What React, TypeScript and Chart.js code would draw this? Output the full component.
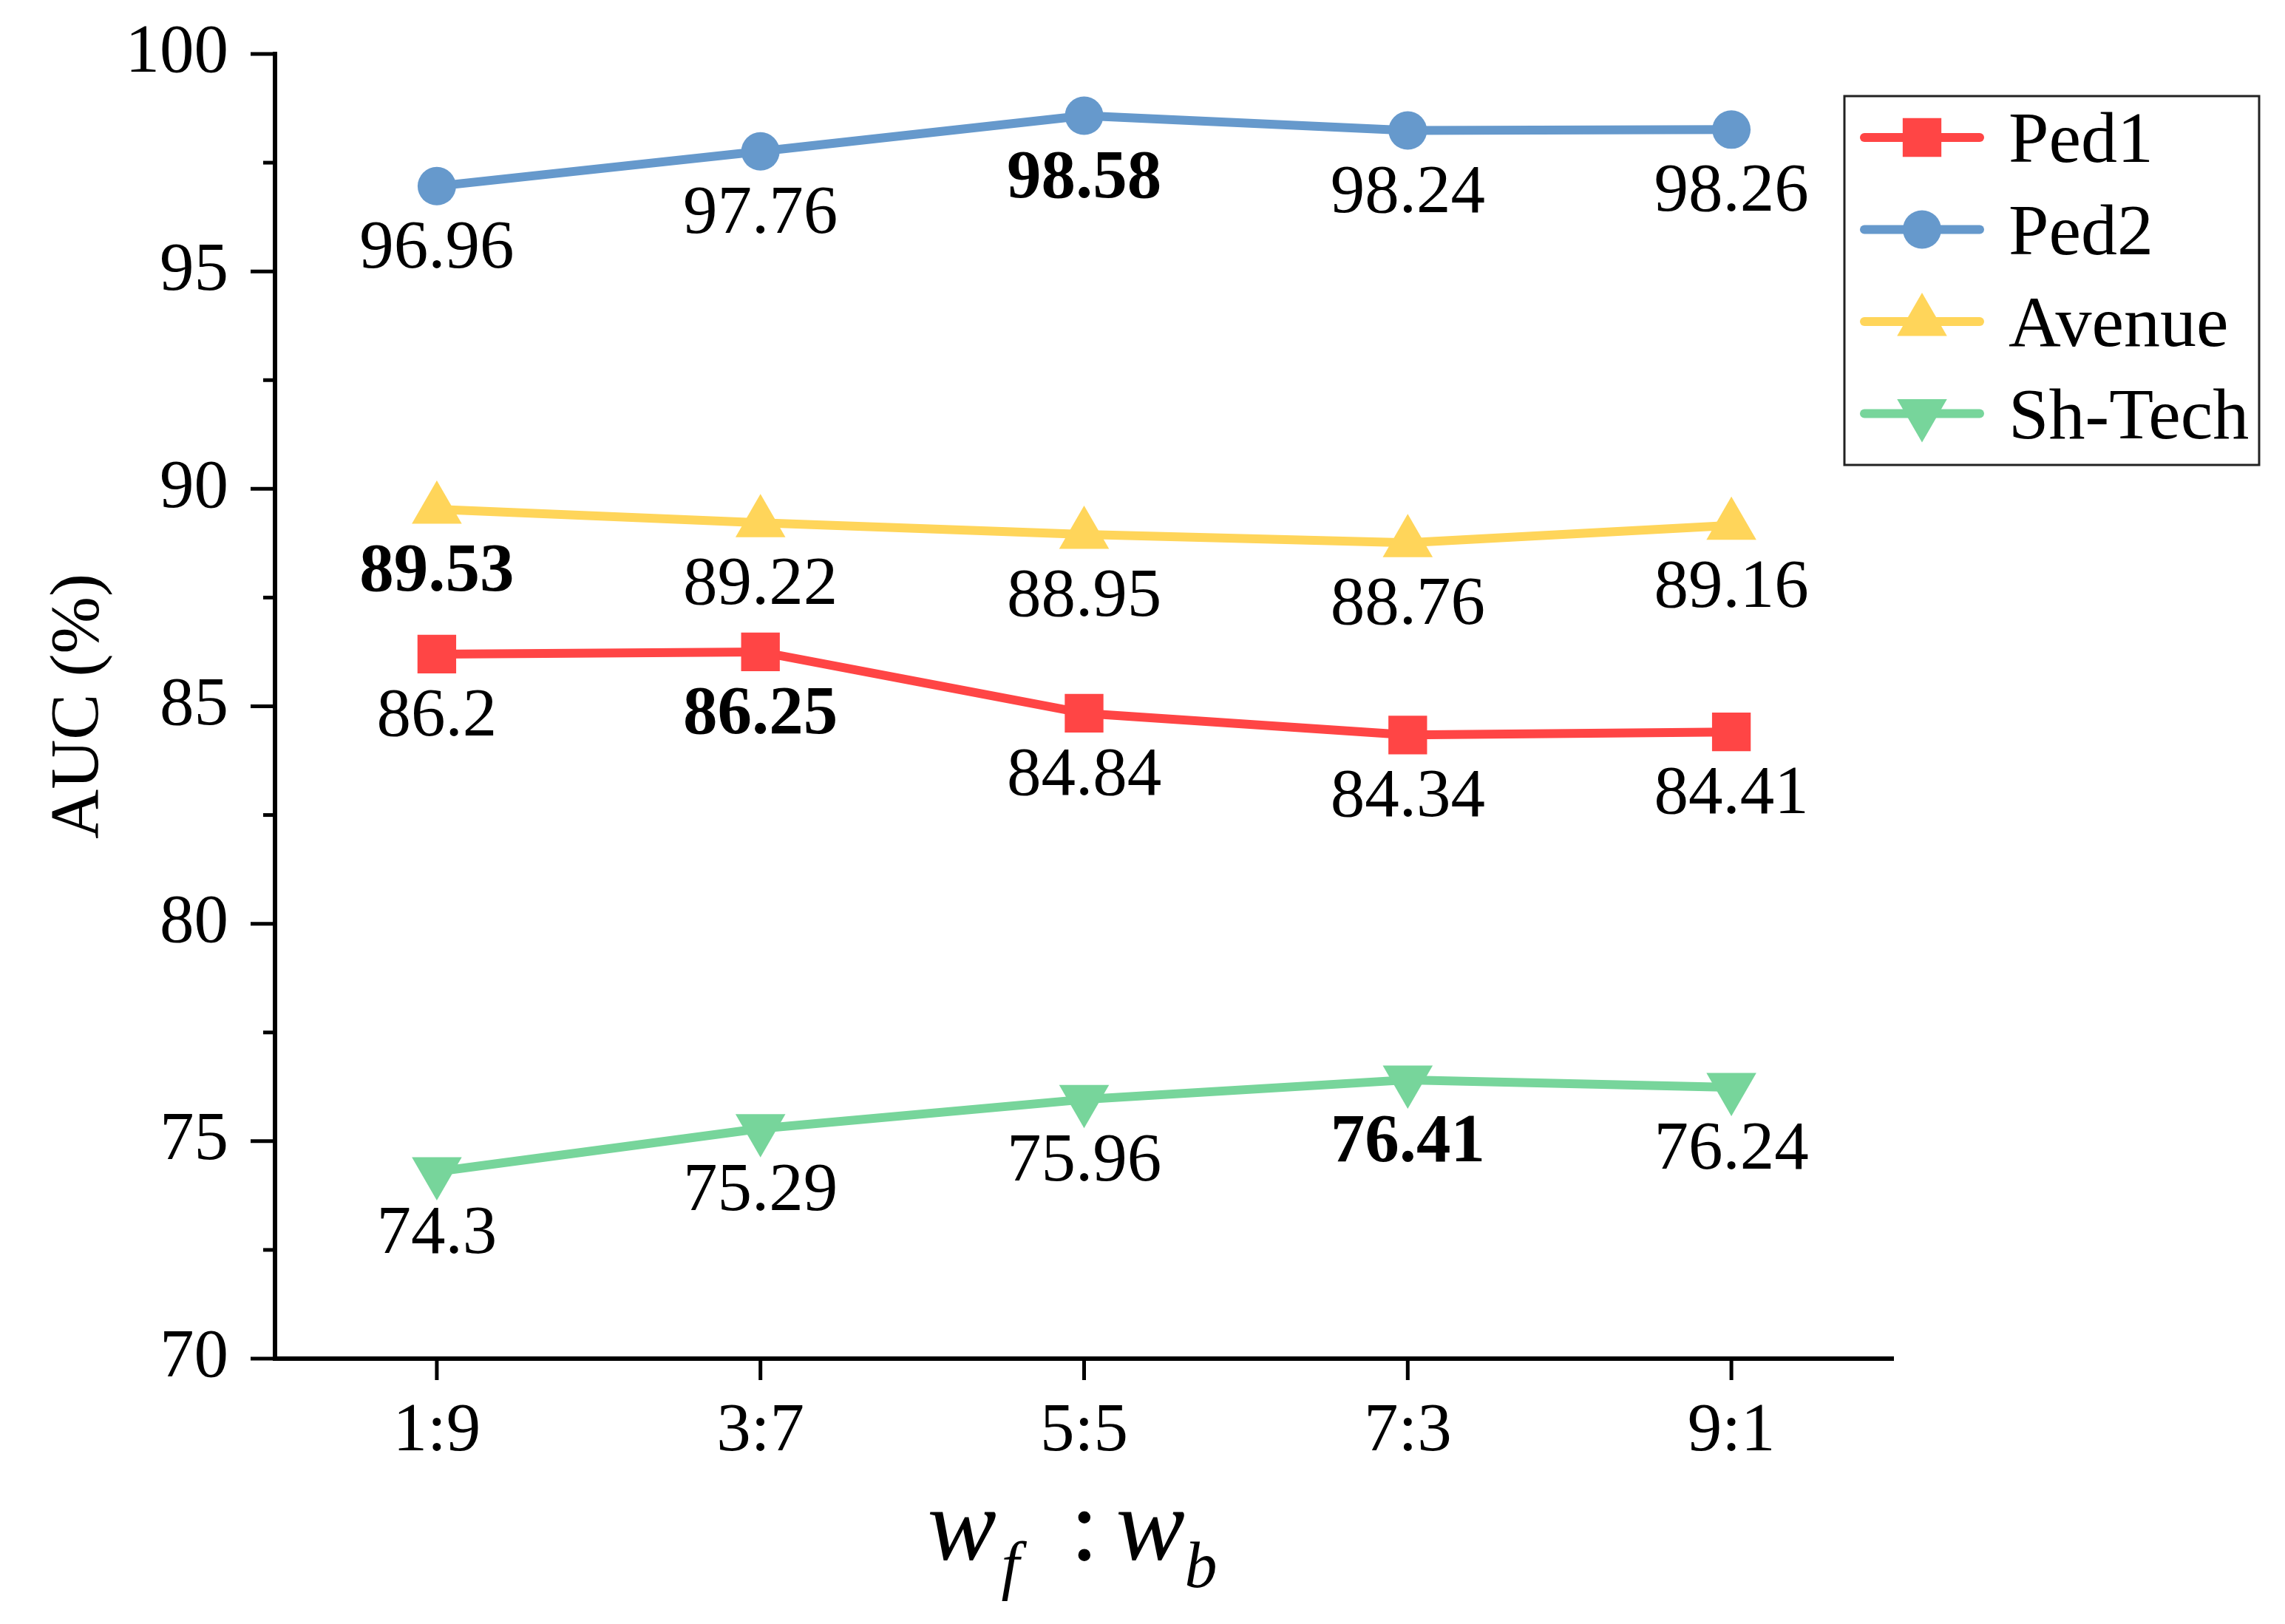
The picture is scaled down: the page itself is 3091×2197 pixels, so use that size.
import { useEffect, useRef } from 'react';
import { Chart, registerables } from 'chart.js';
import { drawPoint } from 'chart.js/helpers';

Chart.register(...registerables);

// weight ratio w_f : w_b
const ratios = ['1:9', '3:7', '5:5', '7:3', '9:1'];

// AUC (%) per dataset
const ped1 = [86.2, 86.25, 84.84, 84.34, 84.41];
const ped2 = [96.96, 97.76, 98.58, 98.24, 98.26];
const avenue = [89.53, 89.22, 88.95, 88.76, 89.16];
const shTech = [74.3, 75.29, 75.96, 76.41, 76.24];

const seriesNames = ['Ped1', 'Ped2', 'Avenue', 'Sh-Tech'];
const seriesColors = ['#FF4545', '#6699CC', '#FFD55A', '#77D59B'];

const yMin = 70;
const yMax = 100;
const yStep = 2.5;

const FONT = '"Liberation Serif", "Times New Roman", serif';

// tick marks: major ones longer than minor ones
const tickMarks = {
    id: 'tickMarks',
    afterDraw(chart: any) {
        const { ctx } = chart;
        const xs = chart.scales.x;
        const ys = chart.scales.y;
        ctx.save();
        ctx.strokeStyle = '#000';
        ctx.lineWidth = 5;
        ys.ticks.forEach((t: any) => {
            const py = ys.getPixelForValue(t.value);
            const len = t.value % 5 === 0 ? 33 : 16;
            ctx.beginPath();
            ctx.moveTo(ys.right, py);
            ctx.lineTo(ys.right - len, py);
            ctx.stroke();
        });
        xs.ticks.forEach((_t: any, i: number) => {
            const px = xs.getPixelForTick(i);
            ctx.beginPath();
            ctx.moveTo(px, xs.top);
            ctx.lineTo(px, xs.top + 29);
            ctx.stroke();
        });
        ctx.restore();
    },
};

// value under every point, best value of each series in bold
const valueLabels = {
    id: 'valueLabels',
    afterDatasetsDraw(chart: any) {
        const { ctx } = chart;
        ctx.save();
        ctx.fillStyle = '#000';
        ctx.textAlign = 'center';
        ctx.textBaseline = 'alphabetic';
        chart.data.datasets.forEach((ds: any, i: number) => {
            const vals = ds.data as number[];
            const best = vals.indexOf(Math.max(...vals));
            chart.getDatasetMeta(i).data.forEach((pt: any, j: number) => {
                ctx.font = `${j === best ? 'bold ' : ''}93px ${FONT}`;
                ctx.fillText(String(vals[j]), pt.x, pt.y + 110);
            });
        });
        ctx.restore();
    },
};

// boxed legend with line + marker samples
const boxLegend = {
    id: 'boxLegend',
    afterDraw(chart: any) {
        const { ctx } = chart;
        const left = 2495, top = 130, w = 561, h = 499;
        ctx.save();
        ctx.strokeStyle = '#222';
        ctx.lineWidth = 3;
        ctx.strokeRect(left, top, w, h);
        chart.data.datasets.forEach((ds: any, i: number) => {
            const cy = 186 + i * 124.5;
            ctx.strokeStyle = ds.borderColor;
            ctx.lineWidth = 12;
            ctx.lineCap = 'round';
            ctx.beginPath();
            ctx.moveTo(2522, cy);
            ctx.lineTo(2678, cy);
            ctx.stroke();
            ctx.fillStyle = ds.borderColor;
            drawPoint(ctx, {
                pointStyle: ds.pointStyle,
                radius: ds.pointRadius,
                rotation: ds.pointRotation || 0,
                borderWidth: 0,
            }, 2600, cy);
            ctx.fillStyle = '#000';
            ctx.font = `98px ${FONT}`;
            ctx.textAlign = 'left';
            ctx.textBaseline = 'alphabetic';
            ctx.fillText(ds.label, 2717, cy + 33);
        });
        ctx.restore();
    },
};

// x-axis title: w_f : w_b
const xTitle = {
    id: 'xTitle',
    afterDraw(chart: any) {
        const { ctx, chartArea } = chart;
        const cx = (chartArea.left + chartArea.right) / 2;
        const base = 2110;
        ctx.save();
        ctx.fillStyle = '#000';
        ctx.textAlign = 'left';
        ctx.textBaseline = 'alphabetic';
        ctx.font = `italic 140px ${FONT}`;
        ctx.fillText('w', cx - 212, base);
        ctx.fillText('w', cx + 43, base);
        ctx.font = `italic 88px ${FONT}`;
        ctx.fillText('f', cx - 112, base + 37);
        ctx.fillText('b', cx + 136, base + 37);
        ctx.font = `140px ${FONT}`;
        ctx.fillText(':', cx - 19, base);
        ctx.restore();
    },
};

export default function App() {
    const canvasRef = useRef<HTMLCanvasElement | null>(null);

    useEffect(() => {
        if (!canvasRef.current) return;
        Chart.defaults.font.family = FONT;
        Chart.defaults.color = '#000';

        const series = [ped1, ped2, avenue, shTech];
        const styles = ['rect', 'circle', 'triangle', 'triangle'];
        const radii = [37, 26, 39, 39];
        const rotations = [0, 0, 0, 180];

        const chart = new Chart(canvasRef.current, {
            type: 'line',
            data: {
                labels: ratios,
                datasets: series.map((vals, i) => ({
                    label: seriesNames[i],
                    data: vals,
                    borderColor: seriesColors[i],
                    backgroundColor: seriesColors[i],
                    borderWidth: 12,
                    borderJoinStyle: 'round',
                    pointStyle: styles[i],
                    pointRadius: radii[i],
                    pointRotation: rotations[i],
                    pointBorderWidth: 0,
                    pointBackgroundColor: seriesColors[i],
                    tension: 0,
                    clip: false,
                })) as any,
            },
            options: {
                responsive: false,
                animation: false,
                devicePixelRatio: 1,
                events: [],
                layout: { autoPadding: false, padding: { left: 0, top: 73, right: 530, bottom: 0 } },
                plugins: {
                    legend: { display: false },
                    tooltip: { enabled: false },
                },
                scales: {
                    x: {
                        type: 'category',
                        offset: true,
                        grid: { display: false, drawTicks: false },
                        border: { display: true, color: '#000', width: 6 },
                        ticks: { font: { size: 93 }, color: '#000', padding: 44, maxRotation: 0 },
                        afterFit: (s: any) => {
                            s.height = 359;
                            s.paddingLeft = 0;
                            s.paddingRight = 0;
                        },
                    },
                    y: {
                        type: 'linear',
                        min: yMin,
                        max: yMax,
                        grid: { display: false, drawTicks: false },
                        border: { display: true, color: '#000', width: 6 },
                        ticks: {
                            stepSize: yStep,
                            autoSkip: false,
                            font: { size: 93 },
                            color: '#000',
                            padding: 63,
                            callback: (v: any) => (Number(v) % 5 === 0 ? String(v) : ''),
                        },
                        title: {
                            display: true,
                            text: 'AUC (%)',
                            font: { size: 93 },
                            color: '#000',
                            padding: { top: 52, bottom: 0 },
                        },
                        afterFit: (s: any) => {
                            s.width = 372;
                            s.paddingTop = 0;
                            s.paddingBottom = 0;
                        },
                    },
                },
            },
            plugins: [tickMarks, valueLabels, boxLegend, xTitle],
        });

        return () => chart.destroy();
    }, []);

    return (
        <div style={{ position: 'fixed', left: 0, top: 0, width: 3091, height: 2197, background: '#fff' }}>
            <canvas ref={canvasRef} width={3091} height={2197} style={{ width: 3091, height: 2197, display: 'block' }}></canvas>
        </div>
    );
}
